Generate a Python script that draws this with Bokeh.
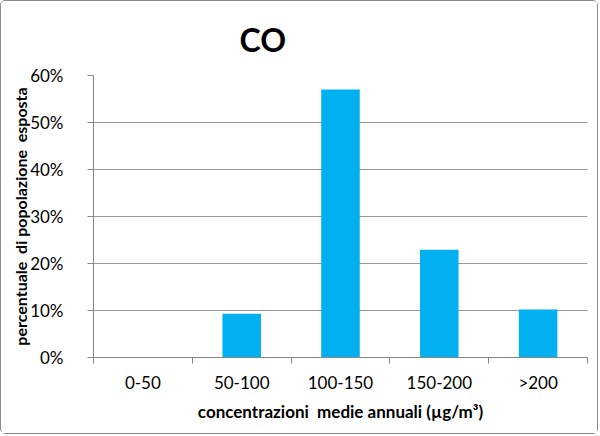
from bokeh.plotting import figure
from bokeh.models import ColumnDataSource, FixedTicker, NumeralTickFormatter, Range1d
from bokeh.embed import file_html
from bokeh.resources import INLINE

categories = ["0-50", "50-100", "100-150", "150-200", ">200"]
values = [0.0, 0.093, 0.570, 0.229, 0.102]
y_ticks = [0.0, 0.1, 0.2, 0.3, 0.4, 0.5, 0.6]

FONT = "Lato"
GRAY = "#868686"
NB = "\u00a0"

xpos = [i + 0.5 for i in range(len(categories))]
src = ColumnDataSource(dict(x=xpos, top=values, cat=categories))

p = figure(width=598, height=434, output_backend="svg", toolbar_location=None,
           x_range=Range1d(0, len(categories)), y_range=Range1d(0, 0.6),
           title="CO")
p.min_border_left = 92
p.min_border_right = 12
p.min_border_top = 74
p.min_border_bottom = 78
p.outline_line_color = None
p.background_fill_color = "white"
p.border_fill_color = "white"

p.title.text_font = FONT
p.title.text_font_size = "32px"
p.title.text_font_style = "bold"
p.title.align = "left"
p.title.offset = 146
p.title.text_color = "black"
p.title.standoff = 33

p.vbar(x="x", top="top", width=0.39, source=src, fill_color="#00B0F0", line_color=None)

# x axis
p.xaxis.ticker = FixedTicker(ticks=xpos, minor_ticks=list(range(len(categories) + 1)))
p.xaxis.major_label_overrides = {x: c for x, c in zip(xpos, categories)}
p.xaxis.major_tick_out = 0
p.xaxis.major_tick_in = 0
p.xaxis.minor_tick_out = 6
p.xaxis.minor_tick_in = 0
p.xaxis.minor_tick_line_color = GRAY
p.xaxis.axis_line_color = GRAY
p.xaxis.major_label_text_font = FONT
p.xaxis.major_label_text_font_size = "17px"
p.xaxis.major_label_text_color = "black"
p.xaxis.major_label_standoff = 8
p.xaxis.axis_label = "concentrazioni" + NB + NB + "medie" + NB + "annuali" + NB + "(µg/m³)"
p.xaxis.axis_label_text_font = FONT
p.xaxis.axis_label_text_font_size = "17px"
p.xaxis.axis_label_text_font_style = "bold"
p.xaxis.axis_label_text_color = "black"
p.xaxis.axis_label_standoff = 5
p.xgrid.grid_line_color = None

# y axis
p.yaxis.ticker = FixedTicker(ticks=y_ticks)
p.yaxis.formatter = NumeralTickFormatter(format="0%")
p.yaxis.major_tick_out = 6
p.yaxis.major_tick_in = 0
p.yaxis.minor_tick_line_color = None
p.yaxis.major_tick_line_color = GRAY
p.yaxis.axis_line_color = GRAY
p.yaxis.major_label_text_font = FONT
p.yaxis.major_label_text_font_size = "17px"
p.yaxis.major_label_text_color = "black"
p.yaxis.major_label_standoff = 24
p.yaxis.axis_label = "percentuale" + NB + NB + "di" + NB + "popolazione" + NB + NB + "esposta"
p.yaxis.axis_label_text_font = FONT
p.yaxis.axis_label_text_font_size = "16px"
p.yaxis.axis_label_text_font_style = "bold"
p.yaxis.axis_label_text_color = "black"
p.yaxis.axis_label_standoff = -3
p.ygrid.grid_line_color = GRAY
p.ygrid.grid_line_alpha = 0.85

p.styles = {"border": "1px solid #8c8c8c", "border-radius": "5px"}

open("out.html", "w").write(file_html(p, INLINE))
